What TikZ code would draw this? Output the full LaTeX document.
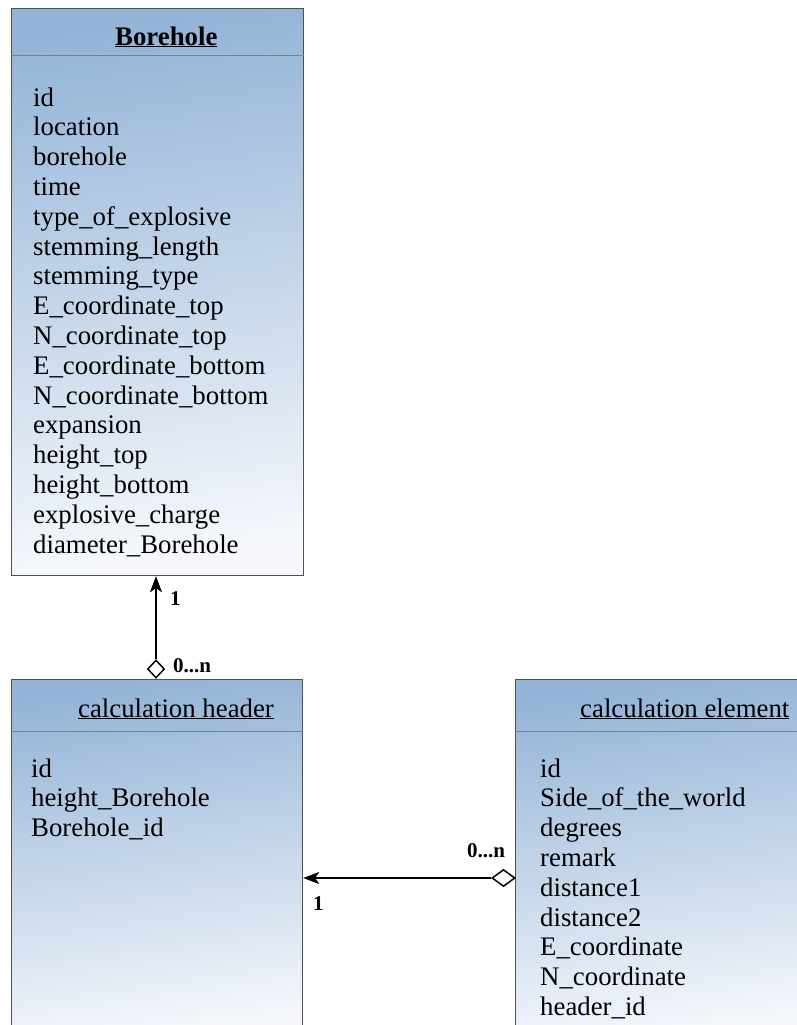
\documentclass[tikz,border=0pt]{standalone}
\usepackage{fontspec}
\setmainfont{Liberation Serif}
\usetikzlibrary{arrows.meta,shapes.geometric}
\definecolor{boxtop}{RGB}{148,180,215}
\definecolor{boxbot}{RGB}{246,248,252}
\definecolor{boxline}{RGB}{80,80,80}
\definecolor{sepcol}{RGB}{120,128,138}
\begin{document}
\begin{tikzpicture}[x=1bp,y=-1bp,
 umlbox/.style={draw=boxline, line width=1.2bp, top color=boxtop, bottom color=boxbot, shading angle=8, inner sep=0, anchor=north west},
 sepline/.style={draw=sepcol, line width=0.8bp},
 attr/.style={anchor=base west, inner sep=0, font=\fontsize{26.8bp}{30bp}\selectfont},
 mult/.style={anchor=base west, inner sep=0, font=\fontsize{21bp}{24bp}\selectfont\bfseries},
 conn/.style={line width=1.8bp, draw=black},
 agg/.style={diamond, draw=black, line width=1.5bp, fill=white, inner sep=0}
]
\useasboundingbox (0,0) rectangle (797,1025);
\clip (0,0) rectangle (797,1025);
\fill[white] (0,0) rectangle (797,1025);

% boxes
\node[umlbox, minimum width=292bp, minimum height=567bp] (bh) at (11,8) {};
\node[umlbox, minimum width=291bp, minimum height=360bp] (ch) at (11,679) {};
\node[umlbox, minimum width=300bp, minimum height=360bp] (ce) at (515,679) {};

\draw[sepline] ([yshift=-47bp]bh.north west) -- ([yshift=-47bp]bh.north east);
\draw[sepline] ([yshift=-52bp]ch.north west) -- ([yshift=-52bp]ch.north east);
\draw[sepline] ([yshift=-52bp]ce.north west) -- ([yshift=-52bp]ce.north east);

% titles
\node[attr] (bhtitle) at (115,45) {\bfseries\underline{Borehole}};
\node[attr] (chtitle) at (78,717) {\underline{calculation header}};
\node[attr] (cetitle) at (580,717) {\underline{calculation element}};

% attributes
\foreach \t [count=\i from 0] in {id,location,borehole,time,type\_of\_explosive,stemming\_length,stemming\_type,E\_coordinate\_top,N\_coordinate\_top,E\_coordinate\_bottom,N\_coordinate\_bottom,expansion,height\_top,height\_bottom,explosive\_charge,diameter\_Borehole}
  \node[attr] (bha\i) at (33,{106+29.8*\i}) {\t};

\foreach \t [count=\i from 0] in {id,height\_Borehole,Borehole\_id}
  \node[attr] (cha\i) at (31,{777+29.8*\i}) {\t};

\foreach \t [count=\i from 0] in {id,Side\_of\_the\_world,degrees,remark,distance1,distance2,E\_coordinate,N\_coordinate,header\_id}
  \node[attr] (cea\i) at (540,{777+29.8*\i}) {\t};

% aggregation diamonds
\node[agg, minimum width=17bp, minimum height=18bp] (d1) at (156,669) {};
\node[agg, minimum width=23bp, minimum height=17bp] (d2) at (503.5,878) {};

% connectors
\draw[conn, -{Stealth[length=16bp,width=12bp,inset=4bp]}] (d1.north) -- (d1.north |- bh.south);
\draw[conn, -{Stealth[length=16bp,width=12bp,inset=4bp]}] (d2.west) -- (d2.west -| ch.east);

% multiplicities
\node[mult] (m1) at (170,605) {1};
\node[mult] (m2) at (173,672) {0...n};
\node[mult] (m3) at (467,857) {0...n};
\node[mult] (m4) at (313,910) {1};
\end{tikzpicture}
\end{document}
